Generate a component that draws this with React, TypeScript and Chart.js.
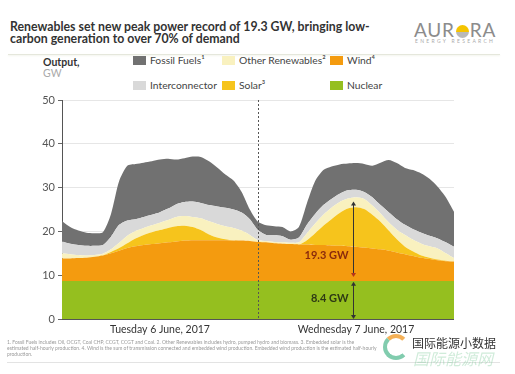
import React, { useEffect, useRef } from "react";
import { Chart, registerables } from "chart.js";

Chart.register(...registerables);

const HOURS = [
  "0", "1", "2", "3", "4", "5", "6", "7", "8", "9", "10", "11", "12", "13", "14", "15", "16", "17", "18", "19", "20", "21", "22", "23",
  "24", "25", "26", "27", "28", "29", "30", "31", "32", "33", "34", "35", "36", "37", "38", "39", "40", "41", "42", "43", "44", "45", "46", "47", "48",
];

const NUCLEAR = [
  8.7, 8.7, 8.7, 8.7, 8.7, 8.7, 8.7, 8.7, 8.7, 8.7, 8.7, 8.7, 8.7, 8.7, 8.7, 8.7, 8.7, 8.7, 8.7, 8.7, 8.7, 8.7, 8.7, 8.7,
  8.7, 8.7, 8.7, 8.7, 8.7, 8.7, 8.7, 8.7, 8.7, 8.7, 8.7, 8.7, 8.7, 8.7, 8.7, 8.7, 8.7, 8.7, 8.7, 8.7, 8.7, 8.7, 8.7, 8.7, 8.7,
];
const WIND = [
  5.1, 5.1, 5.2, 5.3, 5.5, 5.8, 6.3, 6.9, 7.5, 7.9, 8.2, 8.4, 8.6, 8.8, 9.0, 9.2, 9.3, 9.3, 9.3, 9.3, 9.3, 9.2, 9.2, 9.1,
  8.9, 8.8, 8.6, 8.5, 8.4, 8.3, 8.3, 8.2, 8.2, 8.1, 8.0, 7.9, 7.8, 7.6, 7.4, 7.2, 6.9, 6.5, 6.1, 5.7, 5.3, 5.0, 4.7, 4.5, 4.4,
];
const SOLAR = [
  0, 0, 0, 0, 0, 0, 0.3, 0.6, 1.1, 1.8, 2.3, 2.7, 3.0, 3.3, 3.5, 3.4, 3.0, 2.3, 1.3, 0.6, 0.2, 0, 0, 0,
  0, 0, 0, 0, 0, 0, 1.0, 2.7, 4.4, 6.0, 7.5, 8.6, 9.0, 8.8, 7.7, 6.3, 4.6, 3.0, 1.7, 1.0, 0.5, 0.3, 0.2, 0.1, 0,
];
const OTHER_RENEWABLES = [
  1.2, 1.0, 0.7, 0.5, 0.4, 0.4, 0.6, 1.2, 1.7, 1.7, 1.6, 1.6, 1.7, 1.8, 2.1, 2.2, 2.3, 2.7, 3.0, 3.1, 3.0, 2.9, 2.3, 1.4,
  0.4, 0.3, 0.3, 0.3, 0.3, 0.5, 1.6, 2.2, 2.5, 2.6, 2.5, 2.3, 2.3, 2.3, 2.1, 1.9, 1.9, 2.2, 2.7, 2.7, 2.7, 2.6, 2.5, 1.7, 0.8,
];
const INTERCONNECTOR = [
  2.7, 2.4, 2.3, 2.2, 2.1, 2.0, 2.9, 4.1, 3.5, 2.7, 2.5, 2.4, 2.4, 2.6, 2.9, 3.2, 3.5, 3.5, 3.7, 4.0, 4.2, 4.2, 4.1, 3.6,
  2.3, 1.4, 1.5, 1.4, 0.7, 1.1, 2.0, 2.2, 2.2, 2.0, 1.9, 1.9, 1.7, 1.6, 1.9, 1.9, 2.3, 2.4, 2.3, 2.4, 2.5, 2.4, 2.3, 2.5, 2.6,
];
const FOSSIL = [
  4.7, 3.8, 3.3, 3.0, 2.9, 2.9, 5.2, 10.0, 12.5, 12.6, 12.4, 12.2, 12.0, 11.4, 10.2, 10.0, 10.3, 10.5, 10.0, 8.9, 7.6, 6.6, 4.7, 2.2,
  1.9, 2.2, 2.1, 2.1, 1.9, 2.4, 4.9, 7.5, 8.0, 7.4, 6.7, 6.1, 6.1, 6.4, 7.2, 9.7, 11.9, 12.8, 13.0, 13.5, 13.5, 13.0, 11.8, 10.3, 8.0,
];

const Y_TICKS = [0, 10, 20, 30, 40, 50];
const DAY_LABELS = ["Tuesday 6 June, 2017", "Wednesday 7 June, 2017"];
const DAY_CENTERS = [12, 36];
const DIVIDER_AT = 24;
const ARROW_AT = 35.6;
const NUCLEAR_SPAN = [0, 8.5];
const RENEW_SPAN = [9.6, 26.8];
const NUCLEAR_LABEL = "8.4 GW";
const RENEW_LABEL = "19.3 GW";
const NUCLEAR_LABEL_AT = 4.6;
const RENEW_LABEL_AT = 14.6;

const COLORS = {
  fossil: "#717171",
  inter: "#d9d9d9",
  other: "#f9f1bf",
  solar: "#f6c41c",
  wind: "#f49b0f",
  nuclear: "#95bf1f",
};

const FONT = "Lato, 'Open Sans', sans-serif";

function arrowHead(ctx: CanvasRenderingContext2D, x: number, y: number, dir: number, color: string) {
  ctx.save();
  ctx.fillStyle = color;
  ctx.beginPath();
  ctx.moveTo(x, y);
  ctx.lineTo(x - 2.5, y - dir * 4);
  ctx.lineTo(x + 2.5, y - dir * 4);
  ctx.closePath();
  ctx.fill();
  ctx.restore();
}

const overlayPlugin = {
  id: "overlay",
  afterDatasetsDraw(chart: any) {
    const { ctx, chartArea, scales } = chart;
    const x = scales.x;
    const y = scales.y;
    ctx.save();
    const xd = x.getPixelForValue(DIVIDER_AT);
    ctx.strokeStyle = "#555";
    ctx.lineWidth = 1;
    ctx.setLineDash([2, 2]);
    ctx.beginPath();
    ctx.moveTo(Math.round(xd) + 0.5, chartArea.top);
    ctx.lineTo(Math.round(xd) + 0.5, chartArea.bottom);
    ctx.stroke();
    ctx.setLineDash([]);

    const xa = Math.round(x.getPixelForValue(ARROW_AT)) + 0.5;
    ctx.strokeStyle = "#333";
    ctx.lineWidth = 1;
    const n0 = y.getPixelForValue(NUCLEAR_SPAN[0]);
    const n1 = y.getPixelForValue(NUCLEAR_SPAN[1]);
    ctx.beginPath();
    ctx.moveTo(xa, n0 - 3);
    ctx.lineTo(xa, n1 + 3);
    ctx.stroke();
    arrowHead(ctx, xa, n0, 1, "#333");
    arrowHead(ctx, xa, n1, -1, "#333");
    const r0 = y.getPixelForValue(RENEW_SPAN[0]);
    const r1 = y.getPixelForValue(RENEW_SPAN[1]);
    ctx.beginPath();
    ctx.moveTo(xa, r0 - 3);
    ctx.lineTo(xa, r1 + 3);
    ctx.stroke();
    arrowHead(ctx, xa, r0, 1, "#b5341c");
    arrowHead(ctx, xa, r1, -1, "#333");

    ctx.font = `bold 11px ${FONT}`;
    ctx.textAlign = "right";
    ctx.textBaseline = "middle";
    ctx.fillStyle = "#8a2a0c";
    ctx.fillText(RENEW_LABEL, xa - 5, y.getPixelForValue(RENEW_LABEL_AT));
    ctx.fillStyle = "#2e3a14";
    ctx.fillText(NUCLEAR_LABEL, xa - 5, y.getPixelForValue(NUCLEAR_LABEL_AT));

    ctx.font = `10.5px ${FONT}`;
    ctx.textAlign = "center";
    ctx.textBaseline = "top";
    ctx.fillStyle = "#333";
    DAY_LABELS.forEach((lab, i) => {
      ctx.fillText(lab, x.getPixelForValue(DAY_CENTERS[i]), chartArea.bottom + 5);
    });
    ctx.restore();
  },
};

function ChartBox() {
  const ref = useRef<HTMLCanvasElement | null>(null);
  useEffect(() => {
    if (!ref.current) return;
    const mk = (label: string, data: number[], color: string, fill: any) => ({
      label,
      data,
      backgroundColor: color,
      borderColor: color,
      borderWidth: 0,
      pointRadius: 0,
      fill,
      tension: 0.25,
    });
    const chart = new Chart(ref.current, {
      type: "line",
      data: {
        labels: HOURS,
        datasets: [
          mk("Nuclear", NUCLEAR, COLORS.nuclear, "origin"),
          mk("Wind", WIND, COLORS.wind, "-1"),
          mk("Solar", SOLAR, COLORS.solar, "-1"),
          mk("Other Renewables", OTHER_RENEWABLES, COLORS.other, "-1"),
          mk("Interconnector", INTERCONNECTOR, COLORS.inter, "-1"),
          mk("Fossil Fuels", FOSSIL, COLORS.fossil, "-1"),
        ],
      },
      options: {
        animation: false,
        responsive: false,
        maintainAspectRatio: false,
        layout: { padding: { left: 0, right: 61, top: 10, bottom: 30 } },
        plugins: { legend: { display: false }, tooltip: { enabled: false } },
        scales: {
          x: {
            display: false,
            offset: false,
          },
          y: {
            stacked: true,
            min: 0,
            max: 50,
            afterBuildTicks: (scale: any) => {
              scale.ticks = Y_TICKS.map((v) => ({ value: v }));
            },
            afterFit: (scale: any) => {
              scale.width = 62;
            },
            ticks: {
              color: "#555",
              font: { family: FONT, size: 11 },
              padding: 3,
            },
            grid: {
              color: (c: any) => (c.tick && c.tick.value === 0 ? "#555" : "#e6e6e6"),
              tickColor: "#666",
              tickLength: 4,
              drawOnChartArea: true,
            },
            border: { display: true, color: "#555", width: 1 },
          },
        },
      },
      plugins: [overlayPlugin],
    });
    return () => chart.destroy();
  }, []);
  return (
    <canvas
      ref={ref}
      width={515}
      height={259}
      style={{ position: "absolute", left: 0, top: 90, width: 515, height: 259 }}
    />
  );
}

const legendItems = [
  { label: "Fossil Fuels\u00b9", color: COLORS.fossil, x: 133, y: 55 },
  { label: "Other Renewables\u00b2", color: COLORS.other, x: 222, y: 55 },
  { label: "Wind\u2074", color: COLORS.wind, x: 330, y: 55 },
  { label: "Interconnector", color: COLORS.inter, x: 133, y: 80 },
  { label: "Solar\u00b3", color: COLORS.solar, x: 222, y: 80 },
  { label: "Nuclear", color: COLORS.nuclear, x: 330, y: 80 },
];

export default function App() {
  return (
    <div
      style={{
        position: "fixed",
        left: 0,
        top: 0,
        width: 515,
        height: 374,
        background: "#fff",
        fontFamily: FONT,
        overflow: "hidden",
      }}
    >
      <div
        style={{
          position: "absolute",
          left: 10,
          top: 21,
          fontWeight: 700,
          fontSize: 12.3,
          lineHeight: "12px",
          color: "#333",
          whiteSpace: "nowrap",
        }}
      >
        Renewables set new peak power record of 19.3 GW, bringing low-
        <br />
        carbon generation to over 70% of demand
      </div>
      <div style={{ position: "absolute", left: 414, top: 20, color: "#8c8c8c", fontSize: 19, letterSpacing: 0.8, lineHeight: "19px", whiteSpace: "nowrap" }}>
        AUR
        <span
          style={{
            display: "inline-block",
            width: 13,
            height: 13,
            borderRadius: "50%",
            background: "linear-gradient(#f5c400 0%, #f5c400 55%, #b9b9b9 55%)",
            margin: "0 1px",
            verticalAlign: "-1px",
          }}
        />
        RA
      </div>
      <div style={{ position: "absolute", left: 415, top: 38, color: "#aaa", fontSize: 5, letterSpacing: 2.3, whiteSpace: "nowrap" }}>
        ENERGY RESEARCH
      </div>
      <div style={{ position: "absolute", left: 8, top: 54, width: 492, height: 1, background: "#e5e7dc", boxShadow: "0 1px 2px #eef0e6" }} />

      <div style={{ position: "absolute", left: 43, top: 56, fontSize: 10.5, fontWeight: 700, color: "#333" }}>Output,</div>
      <div style={{ position: "absolute", left: 43, top: 67, fontSize: 10.5, color: "#aaa" }}>GW</div>
      {legendItems.map((it) => (
        <div key={it.label} style={{ position: "absolute", left: it.x, top: it.y, display: "flex", alignItems: "center", whiteSpace: "nowrap" }}>
          <span style={{ display: "inline-block", width: 13, height: 9, background: it.color, marginRight: 4 }} />
          <span style={{ fontSize: 10.3, color: "#444", lineHeight: "11px" }}>{it.label}</span>
        </div>
      ))}

      <ChartBox />

      <div style={{ position: "absolute", left: 7, top: 339, fontSize: 5, lineHeight: "6px", color: "#999", width: 400, whiteSpace: "nowrap" }}>
        1. Fossil Fuels includes Oil, OCGT, Coal CHP, CCGT, CCGT and Coal. 2. Other Renewables includes hydro, pumped hydro and biomass. 3. Embedded solar is the
        <br />
        estimated half-hourly production. 4. Wind is the sum of transmission connected and embedded wind production. Embedded wind production is the estimated half-hourly
        <br />
        production.
      </div>
      <div style={{ position: "absolute", left: 7, top: 362, width: 493, height: 1, background: "#e3e3e3" }} />

      <div
        style={{
          position: "absolute",
          left: 383,
          top: 334,
          width: 18,
          height: 18,
          borderRadius: "50%",
          border: "4px solid #6cc3a0",
          borderTopColor: "#f2a33a",
          borderRightColor: "transparent",
          opacity: 0.85,
        }}
      />
      <div style={{ position: "absolute", left: 412, top: 336, fontSize: 12, color: "#333", fontFamily: "'Noto Sans CJK SC', sans-serif", whiteSpace: "nowrap", lineHeight: "14px" }}>
        国际能源小数据
      </div>
      <div style={{ position: "absolute", left: 413, top: 349, fontSize: 16, color: "rgba(120,200,150,0.35)", fontFamily: "'Noto Sans CJK SC', sans-serif", whiteSpace: "nowrap", lineHeight: "18px", fontStyle: "italic" }}>
        国际能源网
      </div>
    </div>
  );
}
